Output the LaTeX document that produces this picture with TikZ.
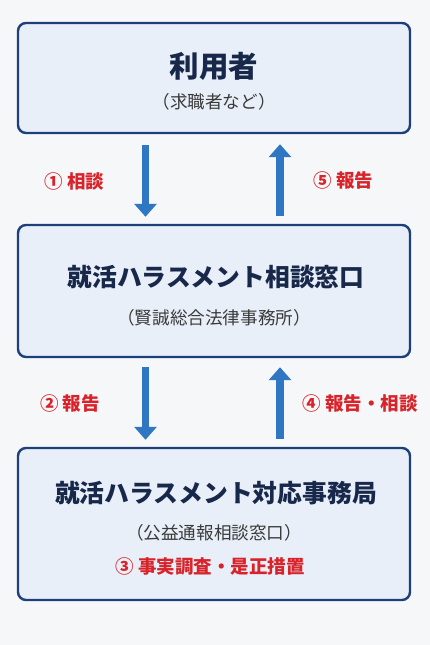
\documentclass[tikz,border=0pt]{standalone}
\usepackage{fontspec}
\setmainfont{Noto Sans CJK JP}
\usepackage{tikz}
\usetikzlibrary{arrows.meta, positioning, calc}

\definecolor{bgcol}{HTML}{F6F7F9}
\definecolor{boxfill}{HTML}{E8EFF8}
\definecolor{boxline}{HTML}{1D3F7A}
\definecolor{titlecol}{HTML}{17284A}
\definecolor{subcol}{HTML}{3A3A3A}
\definecolor{notered}{HTML}{D8232A}
\definecolor{arrowcol}{HTML}{2F76C3}

\begin{document}
\begin{tikzpicture}[
  x=1pt, y=1pt,
  panel/.style = {draw=boxline, line width=2.4pt, fill=boxfill, rounded corners=8pt, minimum width=392pt, inner sep=0pt},
  title/.style = {text=titlecol, font=\bfseries\fontsize{24.8}{28}\selectfont, inner sep=0pt},
  subtitle/.style = {text=subcol, font=\fontsize{17.6}{20}\selectfont, inner sep=0pt},
  note/.style = {text=notered, font=\bfseries\fontsize{18.5}{22}\selectfont, inner sep=0pt},
  flow/.style = {draw=arrowcol, line width=7.5pt, -{Triangle[width=22pt,length=13pt]}}
]
  \fill[bgcol] (0,0) rectangle (430,645);
  \useasboundingbox (0,0) rectangle (430,645);

  % User
  \node[panel, minimum height=110pt] (user) at (214,567) {};
  \node[title, font=\bfseries\fontsize{29.5}{32}\selectfont] (userT) at (214,579) {利用者};
  \node[subtitle] (userS) at (214,543) {（求職者など）};

  % Consultation desk
  \node[panel, minimum height=132pt] (desk) at (214,354) {};
  \node[title] (deskT) at (216,367.5) {就活ハラスメント相談窓口};
  \node[subtitle] (deskS) at (214,327) {（賢誠総合法律事務所）};

  % Secretariat
  \node[panel, minimum height=152pt] (office) at (214,121) {};
  \node[title] (officeT) at (216,152) {就活ハラスメント対応事務局};
  \node[subtitle] (officeS) at (214,112) {（公益通報相談窓口）};
  \node[note] (officeN) at (210,78) {③ 事実調査・是正措置};

  % Flows
  \draw[flow] ([xshift=-68.5pt,yshift=-11pt]user.south) -- ([xshift=-68.5pt,yshift=7pt]desk.north)
    node[note, midway, xshift=-71pt] (step1) {① 相談};
  \draw[flow] ([xshift=66pt,yshift=8pt]desk.north) -- ([xshift=66pt,yshift=-10pt]user.south)
    node[note, midway, xshift=63.5pt] (step5) {⑤ 報告};
  \draw[flow] ([xshift=-68.5pt,yshift=-9pt]desk.south) -- ([xshift=-68.5pt,yshift=7pt]office.north)
    node[note, midway, xshift=-75.5pt] (step2) {② 報告};
  \draw[flow] ([xshift=66pt,yshift=8pt]office.north) -- ([xshift=66pt,yshift=-9pt]desk.south)
    node[note, midway, xshift=80pt] (step4) {④ 報告・相談};

\end{tikzpicture}
\end{document}
